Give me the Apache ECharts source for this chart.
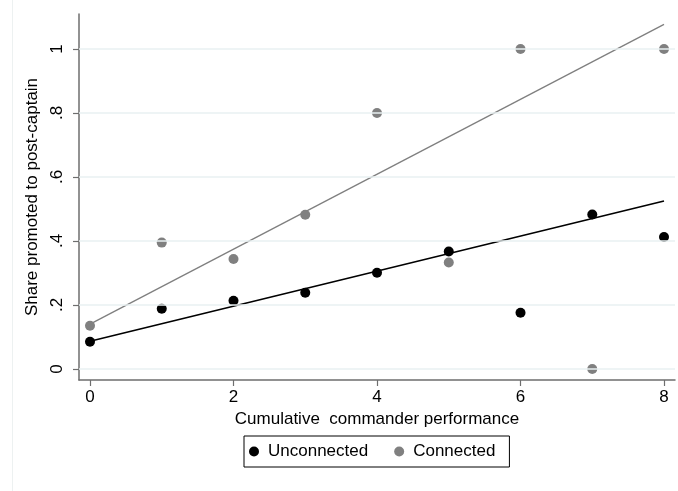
<!DOCTYPE html>
<html>
<head>
<meta charset="utf-8">
<script src="https://cdn.jsdelivr.net/npm/echarts@6/dist/echarts.min.js"></script>
<style>html,body{margin:0;padding:0;background:#fff}#c{width:678px;height:491px}</style>
</head>
<body>
<div id="c"></div>
<script>
var performance = [0, 1, 2, 3, 4, 5, 6, 7, 8];
var unconnected = [0.085, 0.188, 0.213, 0.238, 0.301, 0.367, 0.176, 0.483, 0.4125];
var connected = [0.135, 0.395, 0.344, 0.482, 0.8, 0.333, 1.0, 0.0, 1.0];
var fitUnconnected = [[0, 0.087], [8, 0.525]];
var fitConnected = [[0, 0.14], [8, 1.077]];
var xTicks = [0, 2, 4, 6, 8];
var yTicks = [0, 0.2, 0.4, 0.6, 0.8, 1];
var yTickLabels = ['0', '.2', '.4', '.6', '.8', '1'];

var FONT = 'Liberation Sans, Arial, Helvetica, sans-serif';
var chart = echarts.init(document.getElementById('c'), null, {renderer: 'canvas'});
function pairs(xs, ys) { return xs.map(function (x, i) { return [x, ys[i]]; }); }

chart.setOption({
  animation: false,
  backgroundColor: '#fff',
  textStyle: {fontFamily: FONT},
  graphic: [{
    type: 'line', shape: {x1: 12.5, y1: 0, x2: 12.5, y2: 491},
    style: {stroke: '#edf1f1', lineWidth: 1}, silent: true
  }],
  grid: {left: 79, right: 3, top: 14, bottom: 111, containLabel: false},
  legend: {
    left: 244, top: 436,
    orient: 'horizontal',
    data: [
      {name: 'Unconnected', icon: 'circle', itemStyle: {color: '#000', opacity: 1}},
      {name: 'Connected', icon: 'circle', itemStyle: {color: '#808080', opacity: 1}}
    ],
    itemWidth: 12, itemHeight: 10, itemGap: 26,
    padding: [7, 14, 7, 5],
    borderColor: '#000', borderWidth: 1, borderRadius: 0,
    textStyle: {fontFamily: FONT, fontSize: 17, color: '#000', padding: [0, 0, 0, 3]}
  },
  xAxis: {
    type: 'value', min: -0.1533, max: 8.153,
    name: 'Cumulative  commander performance',
    nameLocation: 'middle', nameGap: 22,
    nameTextStyle: {fontFamily: FONT, fontSize: 17, color: '#000'},
    axisLine: {show: true, onZero: false, lineStyle: {color: '#6e6e6e', width: 1.5}},
    axisTick: {show: true, customValues: xTicks, length: 6, lineStyle: {color: '#6e6e6e', width: 1.2}},
    axisLabel: {customValues: xTicks, margin: 9, fontFamily: FONT, fontSize: 17, color: '#000',
      formatter: function (v) { return String(v); }},
    splitLine: {show: false}
  },
  yAxis: {
    type: 'value', min: -0.0344, max: 1.1094,
    name: 'Share promoted to post-captain',
    nameLocation: 'middle', nameGap: 29, nameRotate: 90,
    nameTextStyle: {fontFamily: FONT, fontSize: 17, color: '#000'},
    axisLine: {show: true, onZero: false, lineStyle: {color: '#6e6e6e', width: 1.5}},
    axisTick: {show: true, customValues: yTicks, length: 6, lineStyle: {color: '#6e6e6e', width: 1.2}},
    axisLabel: {customValues: yTicks, rotate: 90, margin: 13, fontFamily: FONT, fontSize: 17, color: '#000',
      formatter: function (v) {
        var i = yTicks.findIndex(function (t) { return Math.abs(t - v) < 1e-6; });
        return i >= 0 ? yTickLabels[i] : '';
      }},
    splitLine: {show: false}
  },
  series: [
    {
      type: 'line', name: 'grid', data: [], z: 0, silent: true,
      markLine: {
        silent: true, symbol: 'none', animation: false,
        label: {show: false},
        lineStyle: {color: '#e9f1f2', width: 1.5, type: 'solid'},
        data: yTicks.map(function (t) { return {yAxis: t}; })
      }
    },
    {
      type: 'line', name: 'fitU', data: fitUnconnected, showSymbol: false, symbol: 'none',
      lineStyle: {color: '#000', width: 1.6}, z: 2, silent: true
    },
    {
      type: 'line', name: 'fitC', data: fitConnected, showSymbol: false, symbol: 'none',
      lineStyle: {color: '#7f7f7f', width: 1.3}, z: 2, silent: true
    },
    {
      type: 'scatter', name: 'Unconnected', data: pairs(performance, unconnected),
      symbol: 'circle', symbolSize: 10, itemStyle: {color: '#000', opacity: 1}, z: 4
    },
    {
      type: 'scatter', name: 'Connected', data: pairs(performance, connected),
      symbol: 'circle', symbolSize: 10, itemStyle: {color: '#808080', opacity: 1}, z: 3
    }
  ]
});
</script>
</body>
</html>
